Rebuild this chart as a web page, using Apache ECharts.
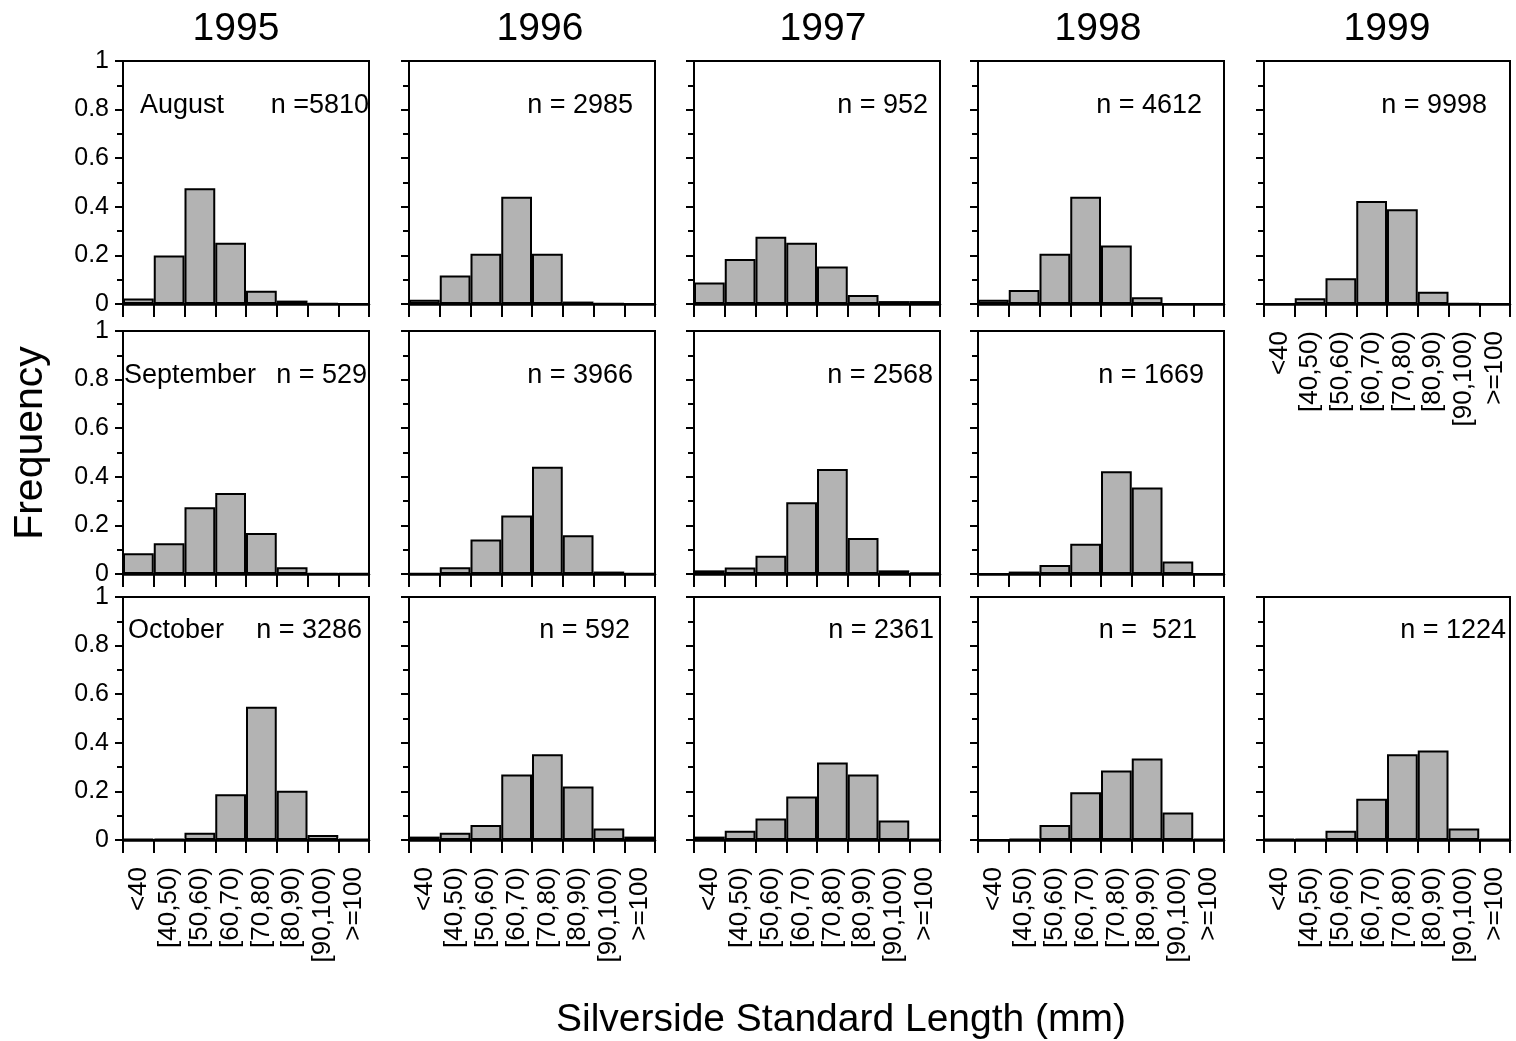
<!DOCTYPE html>
<html>
<head>
<meta charset="utf-8">
<script src="https://cdn.jsdelivr.net/npm/echarts@6/dist/echarts.min.js"></script>
<style>
  html, body { margin: 0; padding: 0; background: #fff; }
  #chart { width: 1516px; height: 1041px; }
</style>
</head>
<body>
<div id="chart"></div>
<script>
// ---------- data ----------
const categories = ['<40', '[40,50)', '[50,60)', '[60,70)', '[70,80)', '[80,90)', '[90,100)', '>=100'];
const years = ['1995', '1996', '1997', '1998', '1999'];
const months = ['August', 'September', 'October'];
const yTicks = [0, 0.2, 0.4, 0.6, 0.8, 1];

const aug1995 = [0.023, 0.200, 0.476, 0.252, 0.055, 0.014, 0.002, 0.001];
const aug1996 = [0.017, 0.117, 0.207, 0.441, 0.207, 0.010, 0.002, 0.001];
const aug1997 = [0.088, 0.185, 0.277, 0.252, 0.154, 0.037, 0.012, 0.012];
const aug1998 = [0.017, 0.058, 0.207, 0.441, 0.241, 0.028, 0.001, 0.001];
const aug1999 = [0.001, 0.024, 0.106, 0.424, 0.390, 0.050, 0.002, 0.001];

const sep1995 = [0.085, 0.127, 0.275, 0.333, 0.169, 0.028, 0.003, 0.002];
const sep1996 = [0.002, 0.028, 0.142, 0.241, 0.441, 0.159, 0.010, 0.002];
const sep1997 = [0.015, 0.027, 0.075, 0.295, 0.432, 0.148, 0.015, 0.007];
const sep1998 = [0.001, 0.010, 0.037, 0.124, 0.423, 0.356, 0.051, 0.001];

const oct1995 = [0.004, 0.005, 0.030, 0.188, 0.548, 0.203, 0.021, 0.005];
const oct1996 = [0.014, 0.030, 0.062, 0.270, 0.353, 0.220, 0.047, 0.014];
const oct1997 = [0.014, 0.038, 0.088, 0.179, 0.319, 0.270, 0.080, 0.005];
const oct1998 = [0.000, 0.005, 0.062, 0.196, 0.286, 0.335, 0.113, 0.005];
const oct1999 = [0.004, 0.004, 0.038, 0.170, 0.353, 0.368, 0.047, 0.005];

const nAug = ['n =5810', 'n = 2985', 'n = 952', 'n = 4612', 'n = 9998'];
const nSep = ['n = 529', 'n = 3966', 'n = 2568', 'n = 1669', null];
const nOct = ['n = 3286', 'n = 592', 'n = 2361', 'n =  521', 'n = 1224'];

const xTitle = 'Silverside Standard Length (mm)';
const yTitle = 'Frequency';

// ---------- layout ----------
const valuesByMonth = [
  [aug1995, aug1996, aug1997, aug1998, aug1999],
  [sep1995, sep1996, sep1997, sep1998, null],
  [oct1995, oct1996, oct1997, oct1998, oct1999]
];
const nByMonth = [nAug, nSep, nOct];
const colLeft = [123, 409, 694, 978, 1264];
const rowTop = [61, 331, 597];
const panelW = 246, panelH = 243;
const nRight = [
  [369, 633, 928, 1202, 1487],
  [367, 633, 933, 1204, null],
  [362, 630, 934, 1197, 1506]
];
const textY = [106, 376, 631];
const monthLeft = [140, 124, 128];
const yearX = [236, 540, 823, 1098, 1387];

const FONT = '"Liberation Sans", Arial, Helvetica, sans-serif';
const grids = [], xAxes = [], yAxes = [], series = [], graphics = [];

let idx = 0;
for (let r = 0; r < 3; r++) {
  for (let c = 0; c < 5; c++) {
    const vals = valuesByMonth[r][c];
    if (!vals) continue;
    const showX = (r === 2) || (r === 0 && c === 4);
    grids.push({
      left: colLeft[c], top: rowTop[r], width: panelW, height: panelH,
      show: true, borderColor: '#000', borderWidth: 2, backgroundColor: 'transparent',
      outerBoundsMode: 'none'
    });
    xAxes.push({
      type: 'category', gridIndex: idx, data: categories,
      axisLine: { show: true, lineStyle: { color: '#000', width: 2.5 } },
      axisTick: { show: true, length: 13, inside: false, lineStyle: { color: '#000', width: 2 } },
      axisLabel: {
        show: showX, rotate: 90, interval: 0, margin: 27,
        fontSize: 26, color: '#000', fontFamily: FONT
      },
      splitLine: { show: false }
    });
    yAxes.push({
      type: 'value', gridIndex: idx, min: 0, max: 1, interval: 0.2,
      axisLine: { show: true, lineStyle: { color: '#000', width: 2 } },
      axisTick: { show: true, length: 8, lineStyle: { color: '#000', width: 2 } },
      minorTick: { show: true, splitNumber: 2, length: 6, lineStyle: { color: '#000', width: 2 } },
      axisLabel: {
        show: c === 0, margin: 14, fontSize: 25, color: '#000', fontFamily: FONT,
        formatter: v => String(v)
      },
      splitLine: { show: false }
    });
    series.push({
      type: 'bar', xAxisIndex: idx, yAxisIndex: idx, data: vals,
      barCategoryGap: '0%', barGap: '0%',
      itemStyle: { color: '#b3b3b3', borderColor: '#000', borderWidth: 2 },
      silent: true
    });
    // n annotation
    graphics.push({
      type: 'text', x: nRight[r][c], y: textY[r],
      style: { text: nByMonth[r][c], fill: '#000', font: '27px ' + FONT, textAlign: 'right', textVerticalAlign: 'middle' }
    });
    if (c === 0) {
      graphics.push({
        type: 'text', x: monthLeft[r], y: textY[r],
        style: { text: months[r], fill: '#000', font: '27px ' + FONT, textAlign: 'left', textVerticalAlign: 'middle' }
      });
    }
    idx++;
  }
}

years.forEach((y, i) => {
  graphics.push({
    type: 'text', x: yearX[i], y: 29,
    style: { text: y, fill: '#000', font: '39px ' + FONT, textAlign: 'center', textVerticalAlign: 'middle' }
  });
});
graphics.push({
  type: 'text', x: 31, y: 443, rotation: Math.PI / 2,
  style: { text: yTitle, fill: '#000', font: '41px ' + FONT, textAlign: 'center', textVerticalAlign: 'middle' }
});
graphics.push({
  type: 'text', x: 841, y: 1020,
  style: { text: xTitle, fill: '#000', font: '39px ' + FONT, textAlign: 'center', textVerticalAlign: 'middle' }
});

const chart = echarts.init(document.getElementById('chart'), null, { renderer: 'canvas' });
chart.setOption({
  animation: false,
  backgroundColor: '#fff',
  grid: grids,
  xAxis: xAxes,
  yAxis: yAxes,
  series: series,
  graphic: graphics
});
</script>
</body>
</html>
